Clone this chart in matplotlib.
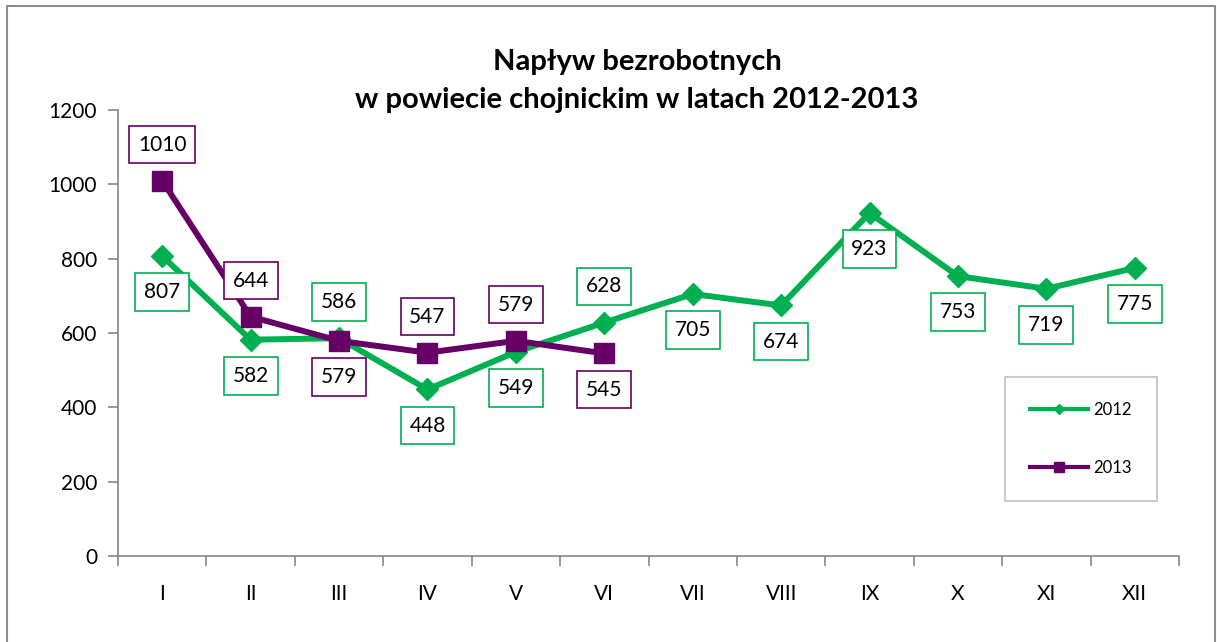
import numpy as np
import matplotlib.pyplot as plt
from matplotlib.lines import Line2D

months = ['I', 'II', 'III', 'IV', 'V', 'VI', 'VII', 'VIII', 'IX', 'X', 'XI', 'XII']
y2012 = [807, 582, 586, 448, 549, 628, 705, 674, 923, 753, 719, 775]
y2013 = [1010, 644, 579, 547, 579, 545]
# label placement: 1 = above the point, -1 = below
pos2012 = [-1, -1, 1, -1, -1, 1, -1, -1, -1, -1, -1, -1]
pos2013 = [1, 1, -1, 1, 1, -1]

green = '#00B050'
purple = '#660066'
grey = '#868686'

plt.rcParams['font.family'] = ['Lato', 'DejaVu Sans']

fig = plt.figure(figsize=(12.17, 6.42), dpi=100)
ax = fig.add_axes([118/1217, 1-556/642, (1179-118)/1217, (556-110)/642])

x = np.arange(len(months))
ax.plot(x, y2012, color=green, lw=4.3, marker='D', ms=11, zorder=3)
ax.plot(x[:len(y2013)], y2013, color=purple, lw=4.3, marker='s', ms=14, zorder=4)

def labels(vals, pos, col):
    for i, v in enumerate(vals):
        ax.annotate(str(v), (i, v), xytext=(0, 26*pos[i]), textcoords='offset points',
                    ha='center', va='center', fontsize=15, zorder=6,
                    bbox=dict(boxstyle='square,pad=0.42', fc='white', ec=col, lw=1.2))

labels(y2012, pos2012, green)
labels(y2013, pos2013, purple)

ax.set_xlim(-0.5, 11.5)
ax.set_ylim(0, 1200)
ax.set_yticks(range(0, 1201, 200))
ax.set_xticks(np.arange(-0.5, 12, 1))
ax.set_xticklabels([])
ax.set_xticks(x, minor=True)
ax.set_xticklabels(months, minor=True)
ax.tick_params(axis='x', which='major', length=7, width=1.2, color=grey, direction='out')
ax.tick_params(axis='x', which='minor', length=0, pad=20, labelsize=15)
ax.tick_params(axis='y', length=7, width=1.2, color=grey, direction='out', pad=8, labelsize=15)
for s in ['top', 'right']:
    ax.spines[s].set_visible(False)
for s in ['left', 'bottom']:
    ax.spines[s].set_color(grey)
    ax.spines[s].set_linewidth(1.2)

handles = [Line2D([], [], color=green, lw=3, marker='D', ms=5),
           Line2D([], [], color=purple, lw=3, marker='s', ms=7)]
leg = fig.legend(handles, ['2012', '2013'], loc='upper left',
                 bbox_to_anchor=(1005/1217, 1-377/642), fontsize=12,
                 frameon=True, fancybox=False, edgecolor='#BFBFBF',
                 borderpad=1.5, labelspacing=2.5, handlelength=3.5,
                 handletextpad=0.3, borderaxespad=0)
leg.get_frame().set_linewidth(1.5)

fig.text(637/1217, 1-81/642, 'Napływ bezrobotnych\nw powiecie chojnickim w latach 2012-2013',
         ha='center', va='center', fontsize=21, fontweight='bold', linespacing=1.55)

# outer chart border (left, top, right)
bx0, bx1, by = 7/1217, 1215/1217, 1-6/642
fig.add_artist(Line2D([bx0, bx0, bx1, bx1], [0, by, by, 0], color='#8C8C8C', lw=1.5))

fig.savefig('out.png', dpi=100)
